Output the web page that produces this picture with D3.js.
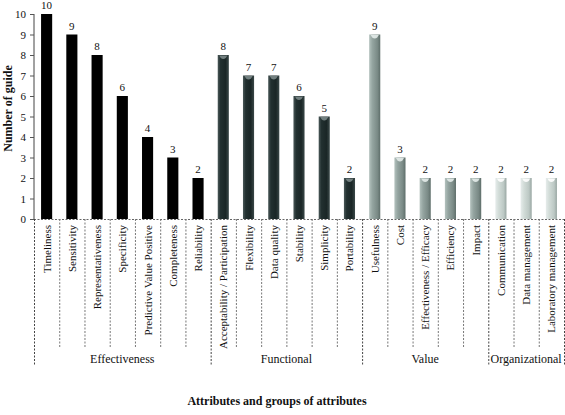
<!DOCTYPE html>
<html>
<head>
<meta charset="utf-8">
<script src="https://cdn.jsdelivr.net/npm/d3@7"></script>
<style>
  html, body { margin: 0; padding: 0; background: #fff; }
  svg { display: block; font-family: "Liberation Serif", "Times New Roman", serif; }
</style>
</head>
<body>
<svg id="chart" width="565" height="415"></svg>
<script>
// ---- data ----
const categories = [
  "Timeliness", "Sensitivity", "Representativeness", "Specificity",
  "Predictive Value Positive", "Completeness", "Reliability",
  "Acceptability / Participation", "Flexibility", "Data quality", "Stability",
  "Simplicity", "Portability",
  "Usefulness", "Cost", "Effectiveness / Efficacy", "Efficiency", "Impact",
  "Communication", "Data management", "Laboratory management"
];
const values = [10, 9, 8, 6, 4, 3, 2, 8, 7, 7, 6, 5, 2, 9, 3, 2, 2, 2, 2, 2, 2];
const groupNames = ["Effectiveness", "Functional", "Value", "Organizational"];
const groupSizes = [7, 6, 5, 3];
const yTicks = [0, 1, 2, 3, 4, 5, 6, 7, 8, 9, 10];
const yTitle = "Number of guide";
const xTitle = "Attributes and groups of attributes";

(function () {
// ---- layout ----
const svg = d3.select("#chart");
const pLeft = 34, pRight = 564, pTop = 14, base = 219;
const catBottom = 347, groupBottom = 366;

const x = d3.scaleBand().domain(categories).range([pLeft, pRight]).padding(0);
const y = d3.scaleLinear().domain([0, 10]).range([base, pTop]);

// group index per category
const groupOf = [];
groupSizes.forEach((n, gi) => { for (let i = 0; i < n; i++) groupOf.push(gi); });
const groupStart = groupSizes.map((_, gi) => d3.sum(groupSizes.slice(0, gi)));

// gradients
const defs = svg.append("defs");
const gradStops = [
  [["0%", "#000"], ["100%", "#000"]],
  [["0%", "#4a5858"], ["25%", "#223030"], ["70%", "#1a2626"], ["100%", "#3a4848"]],
  [["0%", "#b4c2be"], ["30%", "#94a4a0"], ["75%", "#7a8a86"], ["100%", "#5e6e6a"]],
  [["0%", "#e6eceb"], ["30%", "#d2dcd8"], ["75%", "#bcc8c4"], ["100%", "#98a6a2"]]
];
gradStops.forEach((stops, i) => {
  const g = defs.append("linearGradient").attr("id", "g" + i)
    .attr("x1", "0%").attr("x2", "100%").attr("y1", "0%").attr("y2", "0%");
  stops.forEach(s => g.append("stop").attr("offset", s[0]).attr("stop-color", s[1]));
});
const capColor = [null, "#7c8a8a", "#e4ecea", "#ffffff"];

// ---- y axis ----
const yAxis = d3.axisLeft(y).tickValues(yTicks).tickSize(4).tickPadding(4).tickFormat(d3.format("d"));
const ya = svg.append("g").attr("transform", `translate(${pLeft},0)`).call(yAxis);
ya.select(".domain").attr("stroke", "#444").attr("d", `M0,${base}V${pTop}`);
ya.selectAll(".tick line").attr("stroke", "#555");
ya.selectAll(".tick text").attr("font-size", 11).attr("fill", "#111")
  .attr("font-family", "Liberation Serif, serif");

svg.append("text")
  .attr("transform", `translate(12,${(pTop + base) / 2 - 8}) rotate(-90)`)
  .attr("text-anchor", "middle").attr("font-size", 12).attr("font-weight", "bold")
  .attr("fill", "#111").text(yTitle);

// ---- bars ----
const bw = x.bandwidth() * 0.44;
const bars = svg.append("g");
categories.forEach((c, i) => {
  const cx = x(c) + x.bandwidth() / 2;
  const gi = groupOf[i];
  const yt = y(values[i]);
  bars.append("rect")
    .attr("x", cx - bw / 2).attr("y", yt)
    .attr("width", bw).attr("height", base - yt)
    .attr("fill", `url(#g${gi})`);
  if (gi > 0) {
    bars.append("path")
      .attr("d", `M${cx - bw / 2 + 1.5},${yt + 0.5}L${cx + bw / 2 - 1.5},${yt + 0.5}L${cx + bw / 2 - 3},${yt + 3}Q${cx},${yt + 5} ${cx - bw / 2 + 3},${yt + 3}Z`)
      .attr("fill", capColor[gi]).attr("opacity", 0.9);
  }
  svg.append("text")
    .attr("x", cx).attr("y", yt - 5)
    .attr("text-anchor", "middle").attr("font-size", 11).attr("fill", "#111")
    .text(values[i]);
});

// ---- baseline and dividers ----
const dash = "2,1.5";
svg.append("line").attr("x1", pLeft).attr("x2", pRight).attr("y1", base + 0.5).attr("y2", base + 0.5)
  .attr("stroke", "#666").attr("stroke-dasharray", dash);

const boundaries = categories.map(c => x(c)).concat([pRight]);
boundaries.forEach((bx, i) => {
  const isGroup = i === 0 || i === categories.length || groupStart.includes(i);
  svg.append("line")
    .attr("x1", bx + 0.5).attr("x2", bx + 0.5)
    .attr("y1", base).attr("y2", isGroup ? groupBottom : catBottom)
    .attr("stroke", isGroup ? "#444" : "#777").attr("stroke-dasharray", dash);
});

// ---- category labels ----
categories.forEach(c => {
  const cx = x(c) + x.bandwidth() / 2;
  svg.append("text")
    .attr("transform", `translate(${cx + 4},${base + 6}) rotate(-90)`)
    .attr("text-anchor", "end").attr("font-size", 11).attr("fill", "#111")
    .text(c);
});

// ---- group labels ----
groupNames.forEach((g, gi) => {
  const s = groupStart[gi], e = s + groupSizes[gi];
  const x0 = x(categories[s]);
  const x1 = e < categories.length ? x(categories[e]) : pRight;
  svg.append("text")
    .attr("x", (x0 + x1) / 2).attr("y", 363)
    .attr("text-anchor", "middle").attr("font-size", 12).attr("fill", "#111")
    .text(g);
});

svg.append("text")
  .attr("x", 277).attr("y", 405)
  .attr("text-anchor", "middle").attr("font-size", 12).attr("font-weight", "bold")
  .attr("fill", "#111").text(xTitle);
})();
</script>
</body>
</html>
